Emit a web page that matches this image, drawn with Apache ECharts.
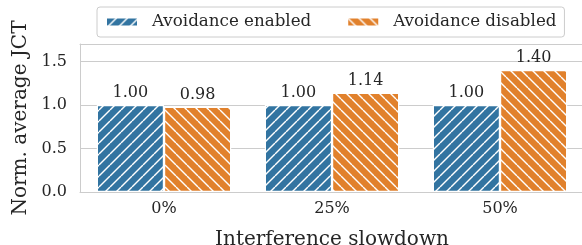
<!DOCTYPE html>
<html>
<head>
<meta charset="utf-8">
<script src="https://cdn.jsdelivr.net/npm/echarts@6/dist/echarts.min.js"></script>
<style>
  html, body { margin: 0; padding: 0; background: #fff; }
  #chart { width: 582px; height: 245px; }
</style>
</head>
<body>
<div id="chart"></div>
<script>
// data
const categories = ['0%', '25%', '50%'];
const enabledValues = [1.00, 1.00, 1.00];
const disabledValues = [0.98, 1.14, 1.40];
const seriesNames = ['Avoidance enabled', 'Avoidance disabled'];
const yTicks = [0, 0.5, 1.0, 1.5];

const FONT = 'DejaVu Serif';
const TEXT = '#262626';
const LINE = '#cccccc';

// hatch tile, dir 1 = '/', dir -1 = '\'
const makeHatch = (bg, dir) => {
  const s = 11;
  const c = document.createElement('canvas');
  c.width = s; c.height = s;
  const ctx = c.getContext('2d');
  ctx.fillStyle = bg;
  ctx.fillRect(0, 0, s, s);
  ctx.strokeStyle = '#ffffff';
  ctx.lineWidth = 1.4;
  for (let k = -1; k <= 1; k++) {
    ctx.beginPath();
    if (dir > 0) {
      ctx.moveTo(k * s, s);
      ctx.lineTo(k * s + s, 0);
    } else {
      ctx.moveTo(k * s, 0);
      ctx.lineTo(k * s + s, s);
    }
    ctx.stroke();
  }
  return { image: c, repeat: 'repeat' };
};

const chart = echarts.init(document.getElementById('chart'), null, { renderer: 'canvas' });

const barLabel = {
  show: true,
  position: 'top',
  distance: 4,
  color: TEXT,
  fontFamily: FONT,
  fontSize: 16,
  formatter: (p) => p.value.toFixed(2)
};

chart.setOption({
  backgroundColor: '#ffffff',
  animation: false,
  textStyle: { fontFamily: FONT, color: TEXT },
  grid: {
    left: 80, top: 44, width: 504, height: 148,
    outerBoundsMode: 'none',
    containLabel: false,
    show: false
  },
  legend: {
    left: 97,
    top: 7,
    padding: [6, 8, 6, 8],
    itemWidth: 32,
    itemHeight: 9,
    itemGap: 35,
    icon: 'rect',
    borderColor: LINE,
    borderWidth: 1,
    borderRadius: 3,
    backgroundColor: '#ffffff',
    textStyle: { fontFamily: FONT, fontSize: 16.7, color: TEXT, padding: [0, 0, 0, 9], lineHeight: 18 },
    data: seriesNames
  },
  xAxis: [
    {
      type: 'category',
      data: categories,
      name: 'Interference slowdown',
      nameLocation: 'middle',
      nameGap: 38,
      nameTextStyle: { fontFamily: FONT, fontSize: 20, color: TEXT },
      axisLine: { lineStyle: { color: LINE, width: 1 } },
      axisTick: { show: false },
      axisLabel: { fontFamily: FONT, fontSize: 16, color: TEXT, margin: 9 },
      splitLine: { show: false }
    },
    {
      // top spine only
      type: 'category',
      data: categories,
      position: 'top',
      axisLine: { show: true, lineStyle: { color: LINE, width: 1 } },
      axisTick: { show: false },
      axisLabel: { show: false },
      splitLine: { show: false }
    }
  ],
  yAxis: {
    type: 'value',
    min: 0,
    max: 1.7,
    interval: 0.5,
    name: 'Norm. average JCT',
    nameLocation: 'middle',
    nameGap: 48,
    nameTextStyle: { fontFamily: FONT, fontSize: 20, color: TEXT },
    axisLine: { show: true, lineStyle: { color: LINE, width: 1 } },
    axisTick: { show: false },
    axisLabel: {
      fontFamily: FONT, fontSize: 16, color: TEXT, margin: 13,
      formatter: (v) => (yTicks.includes(v) ? v.toFixed(1) : '')
    },
    splitLine: { show: true, lineStyle: { color: LINE, width: 1 } }
  },
  series: [
    {
      name: seriesNames[0],
      type: 'bar',
      data: enabledValues,
      barGap: '0%',
      barCategoryGap: '20%',
      itemStyle: { color: makeHatch('#3274a1', 1), borderColor: '#ffffff', borderWidth: 1.2 },
      label: barLabel
    },
    {
      name: seriesNames[1],
      type: 'bar',
      data: disabledValues,
      barGap: '0%',
      barCategoryGap: '20%',
      itemStyle: { color: makeHatch('#e1812c', -1), borderColor: '#ffffff', borderWidth: 1.2 },
      label: barLabel
    }
  ]
});
</script>
</body>
</html>
